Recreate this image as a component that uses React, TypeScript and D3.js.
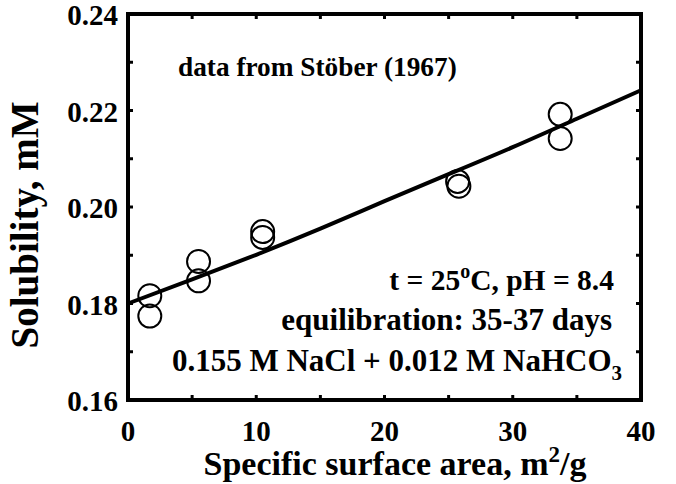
import * as d3 from "d3";

// measured points (specific surface area m2/g, solubility mM)
const areaPts = [1.7, 1.7, 5.5, 5.5, 10.5, 10.5, 25.7, 25.8, 33.7, 33.7];
const solPts = [0.1816, 0.1774, 0.1887, 0.1847, 0.1949, 0.1937, 0.2053, 0.2043, 0.2192, 0.2142];

// fitted curve
const fitArea = [0, 5, 10, 15, 20, 25, 30, 35, 40];
const fitSol = [0.18, 0.185, 0.1901, 0.1955, 0.2012, 0.2068, 0.2124, 0.2183, 0.2242];

const xTicks = [0, 10, 20, 30, 40];
const xMinor = [5, 15, 25, 35];
const yTicks = [0.16, 0.18, 0.2, 0.22, 0.24];
const yMinor = [0.17, 0.19, 0.21, 0.23];

const W = 676;
const H = 484;
const font = "Liberation Serif, Times New Roman, DejaVu Serif, serif";

export default function App() {
  const x = d3.scaleLinear().domain([0, 40]).range([128, 641]);
  const y = d3.scaleLinear().domain([0.16, 0.24]).range([400, 14]);

  const line = d3
    .line<number>()
    .x((d, i) => x(fitArea[i]))
    .y((d) => y(d))
    .curve(d3.curveNatural);

  const allX = [...xTicks, ...xMinor];
  const allY = [...yTicks, ...yMinor];
  const tl = 5;

  return (
    <svg
      width={W}
      height={H}
      style={{ position: "absolute", left: 0, top: 0, background: "#fff", fontFamily: font, fontWeight: 700 }}
    >
      {/* ticks inward on all four sides */}
      {allX.map((t) => (
        <g key={"x" + t} stroke="#000" strokeWidth={3}>
          <line x1={x(t)} x2={x(t)} y1={y(0.16)} y2={y(0.16) - tl} />
          <line x1={x(t)} x2={x(t)} y1={y(0.24)} y2={y(0.24) + tl} />
        </g>
      ))}
      {allY.map((t) => (
        <g key={"y" + t} stroke="#000" strokeWidth={3}>
          <line x1={x(0)} x2={x(0) + tl} y1={y(t)} y2={y(t)} />
          <line x1={x(40)} x2={x(40) - tl} y1={y(t)} y2={y(t)} />
        </g>
      ))}

      <path d={line(fitSol) ?? ""} fill="none" stroke="#000" strokeWidth={4} />

      {solPts.map((v, i) => (
        <circle key={i} cx={x(areaPts[i])} cy={y(v)} r={11.5} fill="none" stroke="#000" strokeWidth={2} />
      ))}

      <rect
        x={x(0)}
        y={y(0.24)}
        width={x(40) - x(0)}
        height={y(0.16) - y(0.24)}
        fill="none"
        stroke="#000"
        strokeWidth={4}
      />

      {/* tick labels */}
      {yTicks.map((t) => (
        <text key={t} x={118} y={y(t) + 1} dy="0.35em" textAnchor="end" fontSize={29}>
          {d3.format(".2f")(t)}
        </text>
      ))}
      {xTicks.map((t) => (
        <text key={t} x={x(t)} y={441} textAnchor="middle" fontSize={29}>
          {t}
        </text>
      ))}

      {/* axis titles */}
      <text x={395} y={475} textAnchor="middle" fontSize={34}>
        Specific surface area, m<tspan dy={-13} fontSize={23}>2</tspan>
        <tspan dy={13}>/g</tspan>
      </text>
      <text transform="translate(38,225) rotate(-90)" textAnchor="middle" fontSize={39}>
        Solubility, mM
      </text>

      {/* annotations */}
      <text x={178} y={76} fontSize={27.3}>
        data from Stöber (1967)
      </text>
      <text x={614} y={290} textAnchor="end" fontSize={29.5}>
        t = 25<tspan dy={-12} fontSize={20}>o</tspan>
        <tspan dy={12}>C, pH = 8.4</tspan>
      </text>
      <text x={612} y={330} textAnchor="end" fontSize={31}>
        equilibration: 35-37 days
      </text>
      <text x={622} y={371} textAnchor="end" fontSize={31}>
        0.155 M NaCl + 0.012 M NaHCO<tspan dy={9} fontSize={21}>3</tspan>
      </text>
    </svg>
  );
}
